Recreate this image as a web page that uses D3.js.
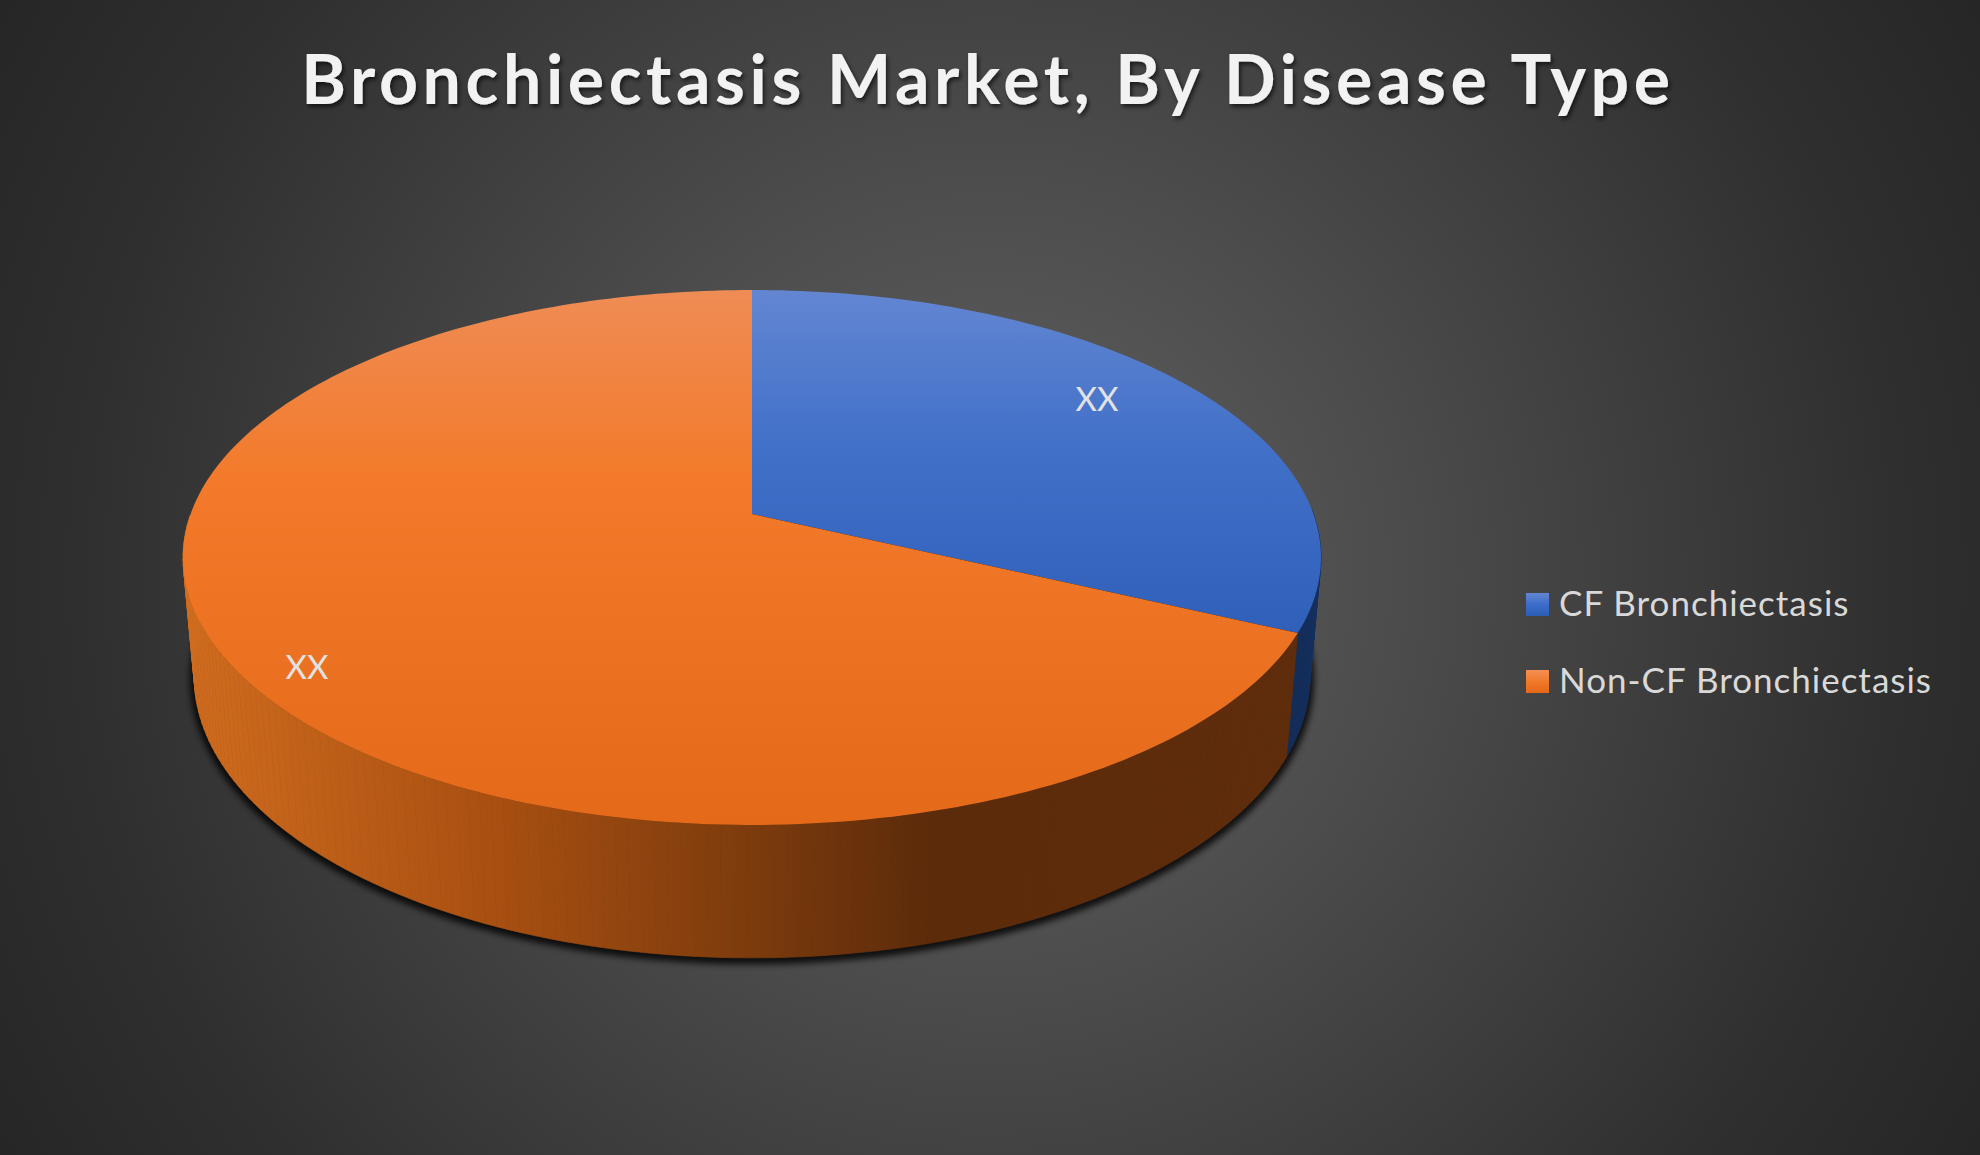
<!DOCTYPE html>
<html><head><meta charset="utf-8">
<script src="https://cdn.jsdelivr.net/npm/d3@7"></script>
<style>
html,body{margin:0;padding:0;background:#2a2a2a;overflow:hidden}
svg{display:block}
text{font-family:Lato,"Open Sans",sans-serif}
</style></head><body>
<script>
const titleText = "Bronchiectasis Market, By Disease Type";
const categories = ["CF Bronchiectasis", "Non-CF Bronchiectasis"];
const seriesValues = [32, 68];
const valueLabels = ["XX", "XX"];

const W = 1980, H = 1155;
const svg = d3.select("body").append("svg").attr("width", W).attr("height", H);
const defs = svg.append("defs");

function gradient(id, attrs, stops) {
  const g = defs.append(attrs.r ? "radialGradient" : "linearGradient").attr("id", id).attr("gradientUnits", "userSpaceOnUse");
  Object.entries(attrs).forEach(([k, v]) => g.attr(k, v));
  stops.forEach(([o, c]) => g.append("stop").attr("offset", o).attr("stop-color", c));
}
gradient("bg", {cx: 990, cy: 577, r: 1145, fx: 990, fy: 577}, [[0, "#575757"], [0.21, "#555555"], [0.358, "#4c4c4c"], [0.795, "#2f2f2f"], [1, "#262626"]]);
gradient("top0", {x1: 0, y1: 290, x2: 0, y2: 825}, [[0, "#6386d2"], [0.3, "#4070c8"], [0.65, "#2f5fb8"], [1, "#2b57aa"]]);
gradient("top1", {x1: 0, y1: 290, x2: 0, y2: 825}, [[0, "#ef8c55"], [0.35, "#f37a2a"], [1, "#e46a1a"]]);
gradient("side1", {x1: 185, y1: 0, x2: 1300, y2: 0}, [[0, "#d06c1e"], [0.28, "#a84f11"], [0.5, "#7e3c0d"], [0.67, "#5c2b0a"], [1, "#5f2d0b"]]);
gradient("side0", {x1: 1280, y1: 0, x2: 1325, y2: 0}, [[0, "#132b56"], [1, "#14305f"]]);
gradient("sw0", {x1: 0, y1: 593, x2: 0, y2: 616}, [[0, "#6386d2"], [0.5, "#3c6dca"], [1, "#2b5db5"]]);
gradient("sw1", {x1: 0, y1: 593, x2: 0, y2: 616}, [[0, "#f58f55"], [0.5, "#f07a2a"], [1, "#e56716"]]);
defs.append("filter").attr("id", "blur").attr("x", "-10%").attr("y", "-10%").attr("width", "120%").attr("height", "120%")
  .append("feGaussianBlur").attr("stdDeviation", 3);
const ts = defs.append("filter").attr("id", "tshadow").attr("x", "-5%").attr("y", "-30%").attr("width", "110%").attr("height", "160%");
ts.append("feDropShadow").attr("dx", 2).attr("dy", 3).attr("stdDeviation", 2).attr("flood-color", "#000").attr("flood-opacity", 0.6);

svg.append("rect").attr("width", W).attr("height", H).attr("fill", "url(#bg)");

// perspective projection of the pie: w = 0 top face, w = 1 bottom rim
const ax = 752, ay = 514, B = 561.4, A = 260.4, C = 120, k = -0.1626, m = 0.0196;
function project(t, w) {
  const u = Math.sin(t), v = -Math.cos(t), d = 1 + k * v + m * w;
  return [ax + B * u / d, ay + (A * v + C * w) / d];
}
const arcs = d3.pie().sort(null).startAngle(0).endAngle(2 * Math.PI)(seriesValues);
const line = d3.line();
const samples = (a, b) => { const n = Math.max(2, Math.ceil((b - a) / 0.02)); return d3.range(n + 1).map(i => a + (b - a) * i / n); };

// shadow under the pie
const rimAll = samples(0, 2 * Math.PI);
svg.append("path").attr("d", line(rimAll.map(t => project(t, 1))) + "Z")
  .attr("transform", "translate(0,2)").attr("fill", "#000").attr("stroke", "#000").attr("stroke-width", 9)
  .attr("opacity", 0.8).attr("filter", "url(#blur)");

// side wall quads: only the part of the rim that faces the viewer
const quads = arcs.flatMap((a, i) => {
  const ts = samples(a.startAngle, a.endAngle);
  return ts.slice(1).map((t, j) => ({i, t, p: [project(ts[j], 0), project(t, 0), project(t, 1), project(ts[j], 1)]}));
}).filter(q => -Math.cos(q.t) > 0);
svg.append("g").selectAll("path").data(quads).join("path")
  .attr("d", d => line(d.p) + "Z")
  .attr("fill", d => `url(#side${d.i})`)
  .attr("stroke", d => `url(#side${d.i})`).attr("stroke-width", 0.7);

// top faces
svg.append("g").selectAll("path").data(arcs).join("path")
  .attr("d", a => line([[ax, ay], ...samples(a.startAngle, a.endAngle).map(t => project(t, 0))]) + "Z")
  .attr("fill", (a, i) => `url(#top${i})`);

// data labels
const labelPos = [[1097, 398], [307, 666]];
svg.append("g").selectAll("text").data(valueLabels).join("text")
  .attr("x", (d, i) => labelPos[i][0]).attr("y", (d, i) => labelPos[i][1] + 13)
  .attr("text-anchor", "middle").attr("font-size", 33).attr("fill", "#e2e2e2").text(d => d);

// title
svg.append("text").attr("x", 988).attr("y", 104).attr("text-anchor", "middle")
  .attr("font-size", 68).attr("font-weight", 700).attr("letter-spacing", 4.6)
  .attr("fill", "#f2f2f2").attr("filter", "url(#tshadow)").text(titleText);

// legend
const legend = svg.append("g").selectAll("g").data(categories).join("g")
  .attr("transform", (d, i) => `translate(0,${i * 77})`);
legend.append("rect").attr("x", 1526).attr("y", 593).attr("width", 23).attr("height", 23)
  .attr("fill", (d, i) => `url(#sw${i})`);
legend.append("text").attr("x", 1559).attr("y", 616).attr("font-size", 35).attr("letter-spacing", 1)
  .attr("fill", "#d9d9d9").text(d => d);
</script>
</body></html>
